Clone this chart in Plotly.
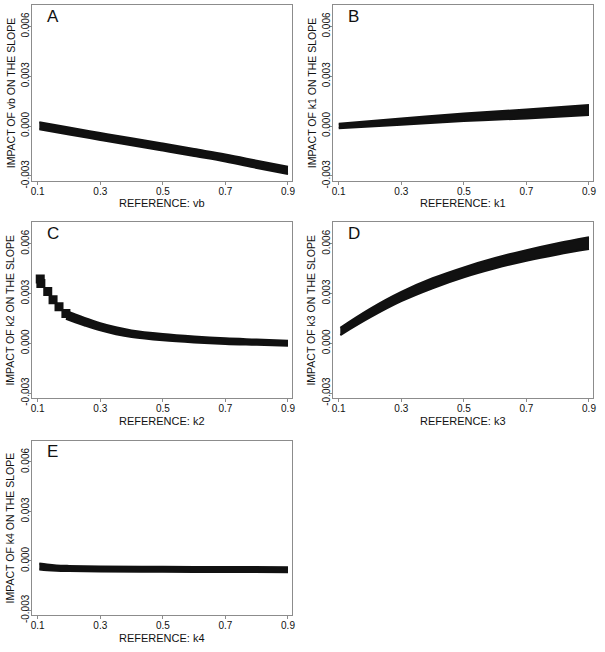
import plotly.graph_objects as go

W, H = 605, 652

tick_vals = [0.1, 0.3, 0.5, 0.7, 0.9]
tick_text = ["0.1", "0.3", "0.5", "0.7", "0.9"]
ytick_vals = [-0.003, 0.0, 0.003, 0.006]
ytick_text = ["-0.003", "0.000", "0.003", "0.006"]

# Panel A (vb)
A_x = [0.105, 0.2, 0.3, 0.4, 0.5, 0.6, 0.7, 0.8, 0.9]
A_hi = [0.00023, -0.00009, -0.00042, -0.00074, -0.00106, -0.00139, -0.00172, -0.00209, -0.00246]
A_lo = [-0.00019, -0.00051, -0.00084, -0.00116, -0.00148, -0.00181, -0.00214, -0.00253, -0.00290]
# Panel B (k1)
B_x = [0.1, 0.3, 0.5, 0.7, 0.9]
B_hi = [0.00014, 0.00045, 0.00075, 0.00100, 0.00126]
B_lo = [-0.00013, 0.00008, 0.00030, 0.00046, 0.00066]
# Panel C (k2): discrete clusters at the low end, then a band
C_sq_x = [0.108, 0.110, 0.132, 0.149, 0.168, 0.190]
C_sq_y = [0.00388, 0.00360, 0.00313, 0.00262, 0.00220, 0.00180]
C_x = [0.19, 0.22, 0.25, 0.3, 0.35, 0.4, 0.5, 0.6, 0.7, 0.8, 0.9]
C_hi = [0.00197, 0.00174, 0.00153, 0.00122, 0.00097, 0.00078, 0.00056, 0.00041, 0.00030, 0.00023, 0.00016]
C_lo = [0.00147, 0.00126, 0.00107, 0.00078, 0.00055, 0.00038, 0.00018, 0.00005, -0.00004, -0.00009, -0.00014]
# Panel D (k3)
D_x = [0.105, 0.2, 0.3, 0.4, 0.5, 0.6, 0.7, 0.8, 0.9]
D_hi = [0.00094, 0.00208, 0.00310, 0.00392, 0.00458, 0.00514, 0.00562, 0.00604, 0.00640]
D_lo = [0.00050, 0.00156, 0.00254, 0.00332, 0.00398, 0.00452, 0.00498, 0.00536, 0.00568]
# Panel E (k4)
E_x = [0.105, 0.13, 0.16, 0.2, 0.3, 0.5, 0.7, 0.9]
E_hi = [-0.00016, -0.00022, -0.00027, -0.00030, -0.00034, -0.00036, -0.00037, -0.00038]
E_lo = [-0.00052, -0.00056, -0.00059, -0.00061, -0.00064, -0.00066, -0.00067, -0.00068]

panel_letters = ["A", "B", "C", "D", "E"]
param_names = ["vb", "k1", "k2", "k3", "k4"]

# pixel boxes (left, top, right, bottom)
boxes = [(31, 5, 293, 183), (334, 5, 596, 183),
         (31, 225, 293, 403), (334, 225, 596, 403),
         (31, 446, 293, 623)]

FONT = "Liberation Sans, Arial, Helvetica, sans-serif"
INK = "#111111"
FRAME = "#8c8c8c"

fig = go.Figure()
bands = [(A_x, A_hi, A_lo), (B_x, B_hi, B_lo), (C_x, C_hi, C_lo), (D_x, D_hi, D_lo), (E_x, E_hi, E_lo)]
for i, (bx, bh, bl) in enumerate(bands):
    sfx = "" if i == 0 else str(i + 1)
    xa, ya = "x" + sfx, "y" + sfx
    fig.add_trace(go.Scatter(x=bx, y=bl, mode="lines", line=dict(color=INK, width=2, shape="spline"),
                             xaxis=xa, yaxis=ya, showlegend=False, hoverinfo="skip"))
    fig.add_trace(go.Scatter(x=bx, y=bh, mode="lines", line=dict(color=INK, width=2, shape="spline"),
                             fill="tonexty", fillcolor=INK,
                             xaxis=xa, yaxis=ya, showlegend=False, hoverinfo="skip"))
    if i == 2:
        fig.add_trace(go.Scatter(x=C_sq_x, y=C_sq_y, mode="markers",
                                 marker=dict(symbol="square", size=9, color=INK),
                                 xaxis=xa, yaxis=ya, showlegend=False, hoverinfo="skip"))

layout = dict(width=W, height=H, margin=dict(l=0, r=0, t=0, b=0),
              paper_bgcolor="white", plot_bgcolor="white",
              font=dict(family=FONT, size=11, color=INK))
annotations = []
for i, (l, t, r, b) in enumerate(boxes):
    sfx = "" if i == 0 else str(i + 1)
    common = dict(showline=True, mirror=True, linecolor=FRAME, linewidth=1,
                  ticks="outside", ticklen=3, tickcolor=FRAME, tickwidth=1,
                  showgrid=False, zeroline=False, fixedrange=True,
                  tickfont=dict(family=FONT, size=10, color=INK))
    layout["xaxis" + sfx] = dict(common, domain=[l / W, r / W], anchor="y" + sfx,
                                 range=[0.081, 0.913], tickmode="array",
                                 tickvals=tick_vals, ticktext=tick_text,
                                 ticklabelstandoff=-2)
    layout["yaxis" + sfx] = dict(common, domain=[1 - b / H, 1 - t / H], anchor="x" + sfx,
                                 range=[-0.0033, 0.0073], tickmode="array",
                                 tickvals=ytick_vals, ticktext=ytick_text, tickangle=-90,
                                 ticklabelstandoff=-5)
    cx, cy = (l + r) / 2, (t + b) / 2
    annotations.append(dict(text="REFERENCE: " + param_names[i], x=cx / W, y=1 - (b + 23) / H,
                            xref="paper", yref="paper", showarrow=False,
                            xanchor="center", yanchor="middle",
                            font=dict(family=FONT, size=11, color=INK)))
    annotations.append(dict(text="IMPACT OF " + param_names[i] + " ON THE SLOPE",
                            x=(l - 21.5) / W, y=1 - cy / H, textangle=-90,
                            xref="paper", yref="paper", showarrow=False,
                            xanchor="center", yanchor="middle",
                            font=dict(family=FONT, size=10.5, color=INK)))
    annotations.append(dict(text=panel_letters[i], x=(l + 21) / W, y=1 - (t + 11.5) / H,
                            xref="paper", yref="paper", showarrow=False,
                            xanchor="center", yanchor="middle",
                            font=dict(family=FONT, size=17, color=INK)))
layout["annotations"] = annotations
fig.update_layout(**layout)
fig.write_html("out.html", config={"displayModeBar": False},
               post_script="document.body.style.margin='0';")
